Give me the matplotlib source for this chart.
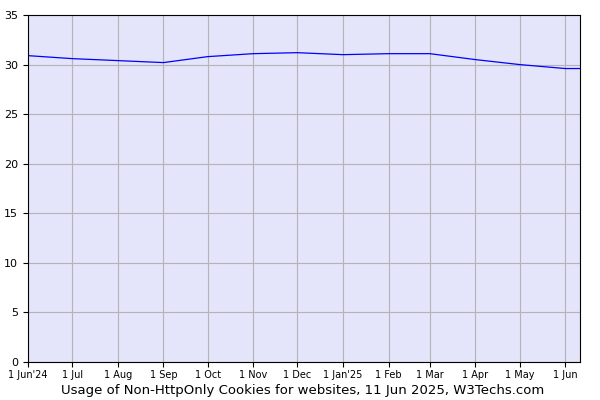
import matplotlib
matplotlib.use("Agg")
import matplotlib.pyplot as plt
import numpy as np

tick_labels = ["1 Jun'24","1 Jul","1 Aug","1 Sep","1 Oct","1 Nov","1 Dec","1 Jan'25","1 Feb","1 Mar","1 Apr","1 May","1 Jun"]
tick_days = [0,30,61,92,122,153,183,214,245,273,304,334,365]
point_days = [0,30,61,92,122,153,183,214,245,273,304,334,365,375]
values = [30.9,30.6,30.4,30.2,30.8,31.1,31.2,31.0,31.1,31.1,30.5,30.0,29.6,29.6]

fig = plt.figure(figsize=(6,4), dpi=100)
ax = fig.add_axes([28/600, 1-362/400, 552/600, 347/400])
ax.set_facecolor("#e4e4fa")
ax.plot(point_days, values, color="#0000ff", lw=0.9)
ax.set_xlim(0, 375)
ax.set_ylim(0, 35)
ax.set_xticks(tick_days)
ax.set_xticklabels(tick_labels, fontsize=7)
ax.tick_params(axis='x', pad=2)
ax.set_yticks(range(0,36,5))
ax.tick_params(axis='y', labelsize=8)
ax.grid(True, color="#b4b4b4", lw=0.8)
ax.set_axisbelow(True)
for s in ax.spines.values():
    s.set_color("black"); s.set_linewidth(0.8)
fig.text(0.505, 0.015, "Usage of Non-HttpOnly Cookies for websites, 11 Jun 2025, W3Techs.com", ha="center", fontsize=9.5)
fig.savefig("out.png")
